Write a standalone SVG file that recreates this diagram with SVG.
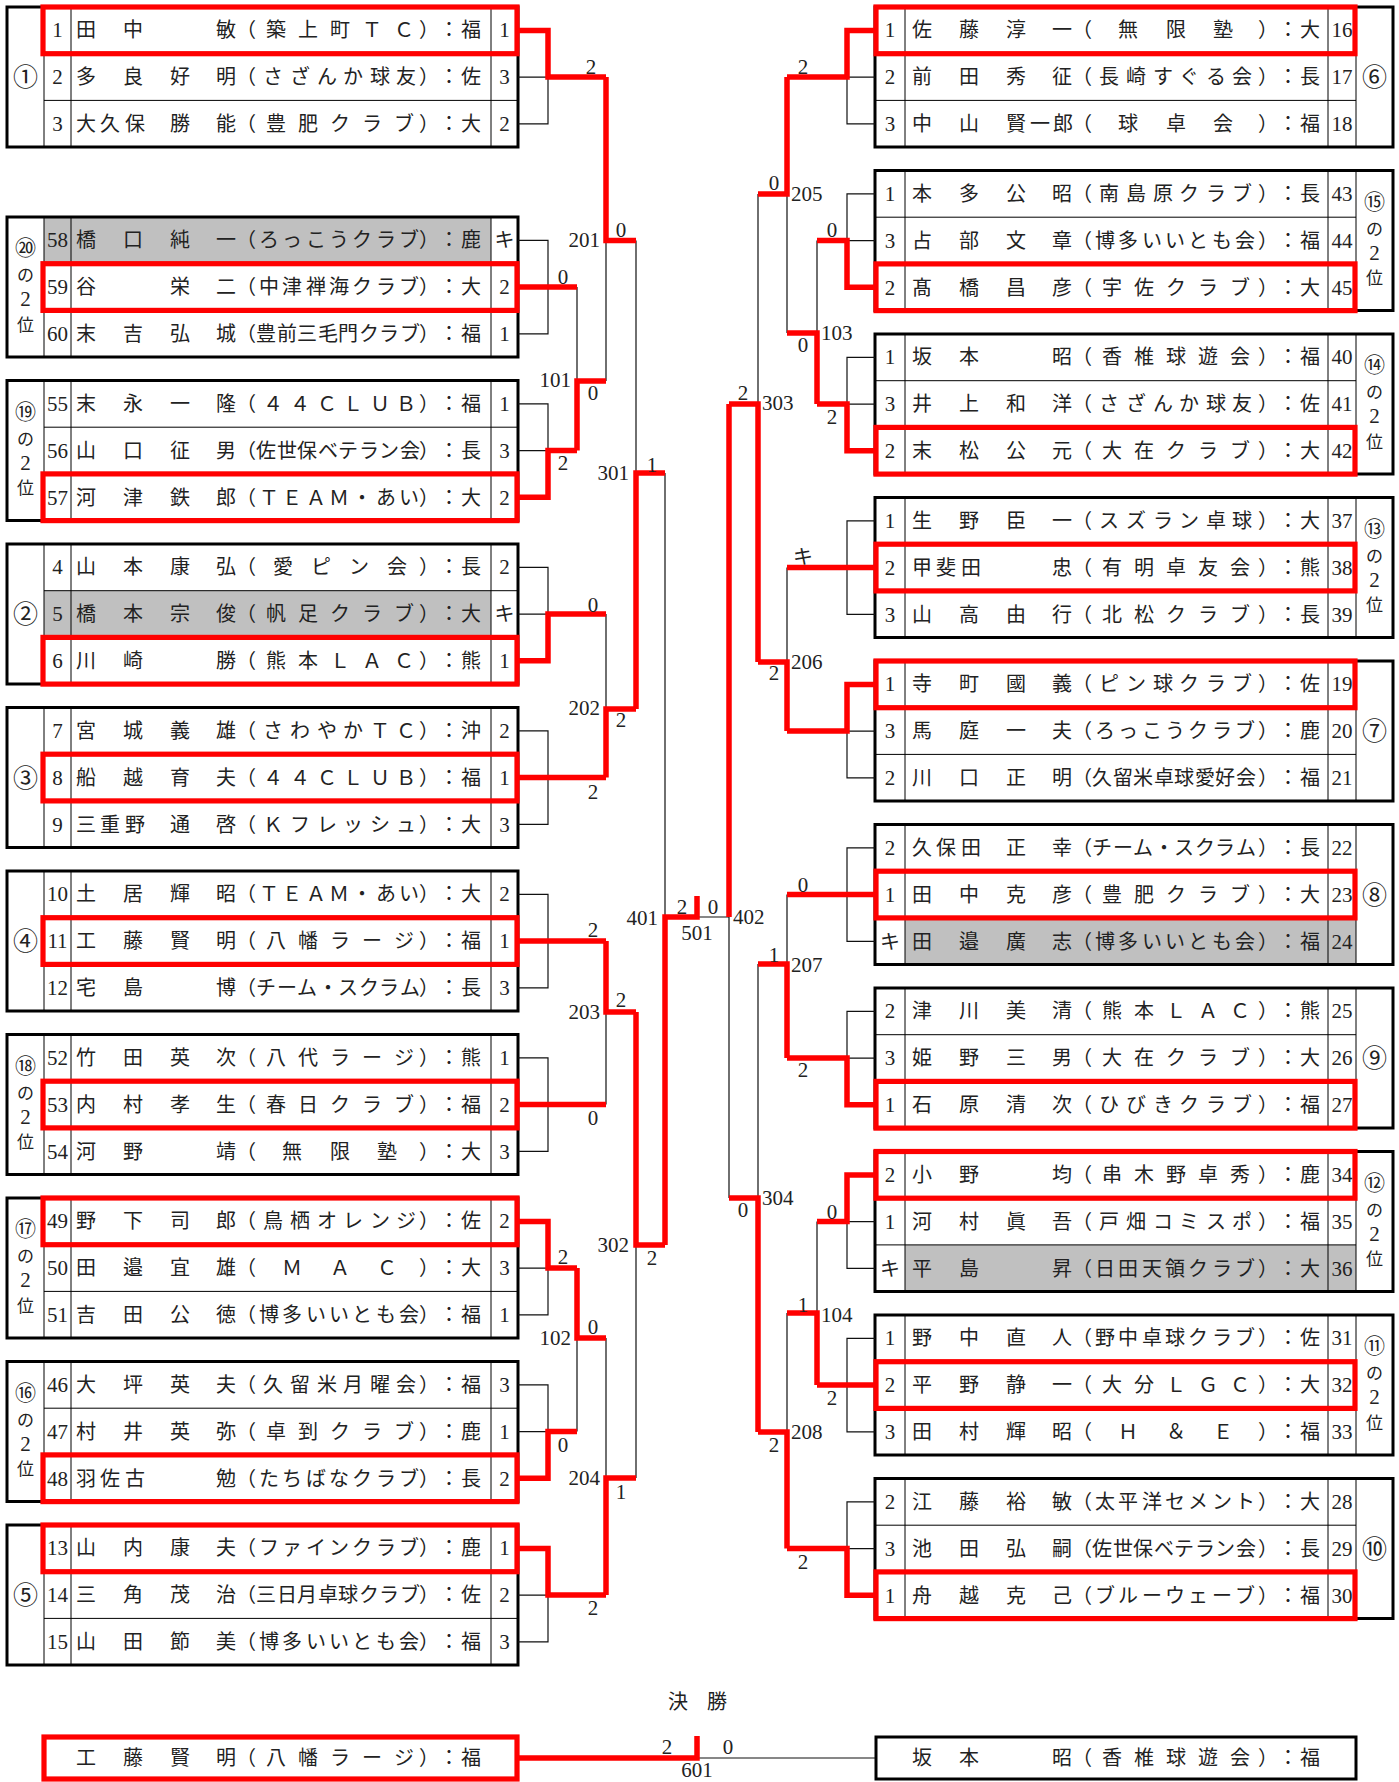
<svg xmlns="http://www.w3.org/2000/svg" width="1399" height="1782" viewBox="0 0 1399 1782">
<style>
.box{fill:none;stroke:#000;stroke-width:3}
.thin{fill:none;stroke:#000;stroke-width:1}
.gray{fill:#c0c0c0}
.win{fill:none;stroke:#f00;stroke-width:5.2}
.t{font-family:"Noto Sans CJK JP",sans-serif;font-size:20px;fill:#222}
.d{font-family:"Liberation Serif",serif;font-size:21px;fill:#222}
.m{text-anchor:middle}
.e{text-anchor:end}
.lab{font-family:"Noto Sans CJK JP",sans-serif;font-size:20px;fill:#222;text-anchor:middle}
.vl{font-family:"Noto Sans CJK JP",sans-serif;font-size:17px;fill:#222;text-anchor:middle}
.cn{font-family:"Noto Sans CJK JP",sans-serif;font-size:25px;fill:#222;text-anchor:middle}
.c2{font-size:21px}
.dg{font-family:"Liberation Serif",serif;font-size:21px}
.rl{fill:none;stroke:#f00;stroke-width:5.5}
.bl{fill:none;stroke:#111;stroke-width:1.2}
</style>
<rect width="1399" height="1782" fill="#fff"/>

<!-- LEFT GROUPS -->
<g id="n-l01" transform="translate(0,7)">
<rect class="box" x="7" y="0" width="511" height="140"/>
<path class="thin" d="M44 0V140M71 0V140M491 0V140M44 46.7H518M44 93.4H518"/>
<text class="cn" x="25.5" y="79">①</text>
<text class="t" y="30" x="76 123 216 236 266 298 330 362 394 419 439 461">田中敏（築上町ＴＣ）：福</text>
<text class="t" y="77" x="76 123 170 216 236 263 290 317 343 370 396 419 439 461">多良好明（さざんか球友）：佐</text>
<text class="t" y="124" x="76 100 125 170 216 236 266 298 330 362 394 419 439 461">大久保勝能（豊肥クラブ）：大</text>
<text class="d m"><tspan x="57.5" y="30">1</tspan><tspan x="57.5" y="77">2</tspan><tspan x="57.5" y="124">3</tspan></text>
<text class="d m"><tspan x="504.5" y="30">1</tspan><tspan x="504.5" y="77">3</tspan><tspan x="504.5" y="124">2</tspan></text>
<rect class="win" x="43" y="0" width="474" height="46.7"/>
</g>

<g id="n-l02" transform="translate(0,217)">
<rect class="gray" x="44" y="0" width="447" height="46.7"/>
<rect class="box" x="7" y="0" width="511" height="140"/>
<path class="thin" d="M44 0V140M71 0V140M491 0V140M44 46.7H518M44 93.4H518"/>
<text class="vl"><tspan class="c2" x="25.5" y="38">⑳</tspan><tspan x="25.5" y="64">の</tspan><tspan class="dg" x="25.5" y="89">2</tspan><tspan x="25.5" y="113.5">位</tspan></text>
<text class="t" y="30" x="76 123 170 216 236 259 282 306 329 352 376 399 419 439 461">橋口純一（ろっこうクラブ）：鹿</text>
<text class="t" y="77" x="76 170 216 236 259 282 306 329 352 376 399 419 439 461">谷栄二（中津禅海クラブ）：大</text>
<text class="t" y="124" x="76 123 170 216 236 256 277 297 318 338 359 379 400 419 439 461">末吉弘城（豊前三毛門クラブ）：福</text>
<text class="d m"><tspan x="57.5" y="30">58</tspan><tspan x="57.5" y="77">59</tspan><tspan x="57.5" y="124">60</tspan></text>
<text class="t m" x="504.5" y="30">キ</text>
<text class="d m"><tspan x="504.5" y="77">2</tspan><tspan x="504.5" y="124">1</tspan></text>
<rect class="win" x="43" y="46.7" width="474" height="46.7"/>
</g>

<g id="n-l03" transform="translate(0,380.5)">
<rect class="box" x="7" y="0" width="511" height="140"/>
<path class="thin" d="M44 0V140M71 0V140M491 0V140M44 46.7H518M44 93.4H518"/>
<text class="vl"><tspan class="c2" x="25.5" y="38">⑲</tspan><tspan x="25.5" y="64">の</tspan><tspan class="dg" x="25.5" y="89">2</tspan><tspan x="25.5" y="113.5">位</tspan></text>
<text class="t" y="30" x="76 123 170 216 236 263 290 317 343 370 396 419 439 461">末永一隆（４４ＣＬＵＢ）：福</text>
<text class="t" y="77" x="76 123 170 216 236 256 277 297 318 338 359 379 400 419 439 461">山口征男（佐世保ベテラン会）：長</text>
<text class="t" y="124" x="76 123 170 216 236 259 282 306 329 352 376 399 419 439 461">河津鉄郎（ＴＥＡＭ・あい）：大</text>
<text class="d m"><tspan x="57.5" y="30">55</tspan><tspan x="57.5" y="77">56</tspan><tspan x="57.5" y="124">57</tspan></text>
<text class="d m"><tspan x="504.5" y="30">1</tspan><tspan x="504.5" y="77">3</tspan><tspan x="504.5" y="124">2</tspan></text>
<rect class="win" x="43" y="93.4" width="474" height="46.7"/>
</g>

<g id="n-l04" transform="translate(0,544)">
<rect class="gray" x="44" y="46.7" width="447" height="46.7"/>
<rect class="box" x="7" y="0" width="511" height="140"/>
<path class="thin" d="M44 0V140M71 0V140M491 0V140M44 46.7H518M44 93.4H518"/>
<text class="cn" x="25.5" y="79">②</text>
<text class="t" y="30" x="76 123 170 216 236 273 311 349 387 419 439 461">山本康弘（愛ピン会）：長</text>
<text class="t" y="77" x="76 123 170 216 236 266 298 330 362 394 419 439 461">橋本宗俊（帆足クラブ）：大</text>
<text class="t" y="124" x="76 123 216 236 266 298 330 362 394 419 439 461">川崎勝（熊本ＬＡＣ）：熊</text>
<text class="d m"><tspan x="57.5" y="30">4</tspan><tspan x="57.5" y="77">5</tspan><tspan x="57.5" y="124">6</tspan></text>
<text class="t m" x="504.5" y="77">キ</text>
<text class="d m"><tspan x="504.5" y="30">2</tspan><tspan x="504.5" y="124">1</tspan></text>
<rect class="win" x="43" y="93.4" width="474" height="46.7"/>
</g>

<g id="n-l05" transform="translate(0,707.5)">
<rect class="box" x="7" y="0" width="511" height="140"/>
<path class="thin" d="M44 0V140M71 0V140M491 0V140M44 46.7H518M44 93.4H518"/>
<text class="cn" x="25.5" y="79">③</text>
<text class="t" y="30" x="76 123 170 216 236 263 290 317 343 370 396 419 439 461">宮城義雄（さわやかＴＣ）：沖</text>
<text class="t" y="77" x="76 123 170 216 236 263 290 317 343 370 396 419 439 461">船越育夫（４４ＣＬＵＢ）：福</text>
<text class="t" y="124" x="76 100 125 170 216 236 263 290 317 343 370 396 419 439 461">三重野通啓（Ｋフレッシュ）：大</text>
<text class="d m"><tspan x="57.5" y="30">7</tspan><tspan x="57.5" y="77">8</tspan><tspan x="57.5" y="124">9</tspan></text>
<text class="d m"><tspan x="504.5" y="30">2</tspan><tspan x="504.5" y="77">1</tspan><tspan x="504.5" y="124">3</tspan></text>
<rect class="win" x="43" y="46.7" width="474" height="46.7"/>
</g>

<g id="n-l06" transform="translate(0,871)">
<rect class="box" x="7" y="0" width="511" height="140"/>
<path class="thin" d="M44 0V140M71 0V140M491 0V140M44 46.7H518M44 93.4H518"/>
<text class="cn" x="25.5" y="79">④</text>
<text class="t" y="30" x="76 123 170 216 236 259 282 306 329 352 376 399 419 439 461">土居輝昭（ＴＥＡＭ・あい）：大</text>
<text class="t" y="77" x="76 123 170 216 236 266 298 330 362 394 419 439 461">工藤賢明（八幡ラージ）：福</text>
<text class="t" y="124" x="76 123 216 236 256 277 297 318 338 359 379 400 419 439 461">宅島博（チーム・スクラム）：長</text>
<text class="d m"><tspan x="57.5" y="30">10</tspan><tspan x="57.5" y="77">11</tspan><tspan x="57.5" y="124">12</tspan></text>
<text class="d m"><tspan x="504.5" y="30">2</tspan><tspan x="504.5" y="77">1</tspan><tspan x="504.5" y="124">3</tspan></text>
<rect class="win" x="43" y="46.7" width="474" height="46.7"/>
</g>

<g id="n-l07" transform="translate(0,1034.5)">
<rect class="box" x="7" y="0" width="511" height="140"/>
<path class="thin" d="M44 0V140M71 0V140M491 0V140M44 46.7H518M44 93.4H518"/>
<text class="vl"><tspan class="c2" x="25.5" y="38">⑱</tspan><tspan x="25.5" y="64">の</tspan><tspan class="dg" x="25.5" y="89">2</tspan><tspan x="25.5" y="113.5">位</tspan></text>
<text class="t" y="30" x="76 123 170 216 236 266 298 330 362 394 419 439 461">竹田英次（八代ラージ）：熊</text>
<text class="t" y="77" x="76 123 170 216 236 266 298 330 362 394 419 439 461">内村孝生（春日クラブ）：福</text>
<text class="t" y="124" x="76 123 216 236 282 330 377 419 439 461">河野靖（無限塾）：大</text>
<text class="d m"><tspan x="57.5" y="30">52</tspan><tspan x="57.5" y="77">53</tspan><tspan x="57.5" y="124">54</tspan></text>
<text class="d m"><tspan x="504.5" y="30">1</tspan><tspan x="504.5" y="77">2</tspan><tspan x="504.5" y="124">3</tspan></text>
<rect class="win" x="43" y="46.7" width="474" height="46.7"/>
</g>

<g id="n-l08" transform="translate(0,1198)">
<rect class="box" x="7" y="0" width="511" height="140"/>
<path class="thin" d="M44 0V140M71 0V140M491 0V140M44 46.7H518M44 93.4H518"/>
<text class="vl"><tspan class="c2" x="25.5" y="38">⑰</tspan><tspan x="25.5" y="64">の</tspan><tspan class="dg" x="25.5" y="89">2</tspan><tspan x="25.5" y="113.5">位</tspan></text>
<text class="t" y="30" x="76 123 170 216 236 263 290 317 343 370 396 419 439 461">野下司郎（鳥栖オレンジ）：佐</text>
<text class="t" y="77" x="76 123 170 216 236 282 330 377 419 439 461">田邉宜雄（ＭＡＣ）：大</text>
<text class="t" y="124" x="76 123 170 216 236 259 282 306 329 352 376 399 419 439 461">吉田公徳（博多いいとも会）：福</text>
<text class="d m"><tspan x="57.5" y="30">49</tspan><tspan x="57.5" y="77">50</tspan><tspan x="57.5" y="124">51</tspan></text>
<text class="d m"><tspan x="504.5" y="30">2</tspan><tspan x="504.5" y="77">3</tspan><tspan x="504.5" y="124">1</tspan></text>
<rect class="win" x="43" y="0" width="474" height="46.7"/>
</g>

<g id="n-l09" transform="translate(0,1361.5)">
<rect class="box" x="7" y="0" width="511" height="140"/>
<path class="thin" d="M44 0V140M71 0V140M491 0V140M44 46.7H518M44 93.4H518"/>
<text class="vl"><tspan class="c2" x="25.5" y="38">⑯</tspan><tspan x="25.5" y="64">の</tspan><tspan class="dg" x="25.5" y="89">2</tspan><tspan x="25.5" y="113.5">位</tspan></text>
<text class="t" y="30" x="76 123 170 216 236 263 290 317 343 370 396 419 439 461">大坪英夫（久留米月曜会）：福</text>
<text class="t" y="77" x="76 123 170 216 236 266 298 330 362 394 419 439 461">村井英弥（卓到クラブ）：鹿</text>
<text class="t" y="124" x="76 100 125 216 236 259 282 306 329 352 376 399 419 439 461">羽佐古勉（たちばなクラブ）：長</text>
<text class="d m"><tspan x="57.5" y="30">46</tspan><tspan x="57.5" y="77">47</tspan><tspan x="57.5" y="124">48</tspan></text>
<text class="d m"><tspan x="504.5" y="30">3</tspan><tspan x="504.5" y="77">1</tspan><tspan x="504.5" y="124">2</tspan></text>
<rect class="win" x="43" y="93.4" width="474" height="46.7"/>
</g>

<g id="n-l10" transform="translate(0,1525)">
<rect class="box" x="7" y="0" width="511" height="140"/>
<path class="thin" d="M44 0V140M71 0V140M491 0V140M44 46.7H518M44 93.4H518"/>
<text class="cn" x="25.5" y="79">⑤</text>
<text class="t" y="30" x="76 123 170 216 236 259 282 306 329 352 376 399 419 439 461">山内康夫（ファインクラブ）：鹿</text>
<text class="t" y="77" x="76 123 170 216 236 256 277 297 318 338 359 379 400 419 439 461">三角茂治（三日月卓球クラブ）：佐</text>
<text class="t" y="124" x="76 123 170 216 236 259 282 306 329 352 376 399 419 439 461">山田節美（博多いいとも会）：福</text>
<text class="d m"><tspan x="57.5" y="30">13</tspan><tspan x="57.5" y="77">14</tspan><tspan x="57.5" y="124">15</tspan></text>
<text class="d m"><tspan x="504.5" y="30">1</tspan><tspan x="504.5" y="77">2</tspan><tspan x="504.5" y="124">3</tspan></text>
<rect class="win" x="43" y="0" width="474" height="46.7"/>
</g>

<!-- RIGHT GROUPS -->
<g id="n-r01" transform="translate(0,7)">
<rect class="box" x="875" y="0" width="518" height="140"/>
<path class="thin" d="M905 0V140M1328 0V140M1356 0V140M875 46.7H1356M875 93.4H1356"/>
<text class="cn" x="1374.5" y="79">⑥</text>
<text class="t" y="30" x="912 959 1006 1052 1072 1118 1166 1213 1258 1278 1300">佐藤淳一（無限塾）：大</text>
<text class="t" y="77" x="912 959 1006 1052 1072 1099 1126 1153 1179 1206 1232 1258 1278 1300">前田秀征（長崎すぐる会）：長</text>
<text class="t" y="124" x="912 959 1006 1030 1053 1072 1118 1166 1213 1258 1278 1300">中山賢一郎（球卓会）：福</text>
<text class="d m"><tspan x="890" y="30">1</tspan><tspan x="890" y="77">2</tspan><tspan x="890" y="124">3</tspan></text>
<text class="d m"><tspan x="1342" y="30">16</tspan><tspan x="1342" y="77">17</tspan><tspan x="1342" y="124">18</tspan></text>
<rect class="win" x="876" y="0" width="479" height="46.7"/>
</g>

<g id="n-r02" transform="translate(0,170.5)">
<rect class="box" x="875" y="0" width="518" height="140"/>
<path class="thin" d="M905 0V140M1328 0V140M1356 0V140M875 46.7H1356M875 93.4H1356"/>
<text class="vl"><tspan class="c2" x="1374.5" y="38">⑮</tspan><tspan x="1374.5" y="64">の</tspan><tspan class="dg" x="1374.5" y="89">2</tspan><tspan x="1374.5" y="113.5">位</tspan></text>
<text class="t" y="30" x="912 959 1006 1052 1072 1099 1126 1153 1179 1206 1232 1258 1278 1300">本多公昭（南島原クラブ）：長</text>
<text class="t" y="77" x="912 959 1006 1052 1072 1095 1118 1142 1165 1188 1212 1235 1258 1278 1300">占部文章（博多いいとも会）：福</text>
<text class="t" y="124" x="912 959 1006 1052 1072 1102 1134 1166 1198 1230 1258 1278 1300">髙橋昌彦（宇佐クラブ）：大</text>
<text class="d m"><tspan x="890" y="30">1</tspan><tspan x="890" y="77">3</tspan><tspan x="890" y="124">2</tspan></text>
<text class="d m"><tspan x="1342" y="30">43</tspan><tspan x="1342" y="77">44</tspan><tspan x="1342" y="124">45</tspan></text>
<rect class="win" x="876" y="93.4" width="479" height="46.7"/>
</g>

<g id="n-r03" transform="translate(0,334)">
<rect class="box" x="875" y="0" width="518" height="140"/>
<path class="thin" d="M905 0V140M1328 0V140M1356 0V140M875 46.7H1356M875 93.4H1356"/>
<text class="vl"><tspan class="c2" x="1374.5" y="38">⑭</tspan><tspan x="1374.5" y="64">の</tspan><tspan class="dg" x="1374.5" y="89">2</tspan><tspan x="1374.5" y="113.5">位</tspan></text>
<text class="t" y="30" x="912 959 1052 1072 1102 1134 1166 1198 1230 1258 1278 1300">坂本昭（香椎球遊会）：福</text>
<text class="t" y="77" x="912 959 1006 1052 1072 1099 1126 1153 1179 1206 1232 1258 1278 1300">井上和洋（さざんか球友）：佐</text>
<text class="t" y="124" x="912 959 1006 1052 1072 1102 1134 1166 1198 1230 1258 1278 1300">末松公元（大在クラブ）：大</text>
<text class="d m"><tspan x="890" y="30">1</tspan><tspan x="890" y="77">3</tspan><tspan x="890" y="124">2</tspan></text>
<text class="d m"><tspan x="1342" y="30">40</tspan><tspan x="1342" y="77">41</tspan><tspan x="1342" y="124">42</tspan></text>
<rect class="win" x="876" y="93.4" width="479" height="46.7"/>
</g>

<g id="n-r04" transform="translate(0,497.5)">
<rect class="box" x="875" y="0" width="518" height="140"/>
<path class="thin" d="M905 0V140M1328 0V140M1356 0V140M875 46.7H1356M875 93.4H1356"/>
<text class="vl"><tspan class="c2" x="1374.5" y="38">⑬</tspan><tspan x="1374.5" y="64">の</tspan><tspan class="dg" x="1374.5" y="89">2</tspan><tspan x="1374.5" y="113.5">位</tspan></text>
<text class="t" y="30" x="912 959 1006 1052 1072 1099 1126 1153 1179 1206 1232 1258 1278 1300">生野臣一（スズラン卓球）：大</text>
<text class="t" y="77" x="912 936 961 1052 1072 1102 1134 1166 1198 1230 1258 1278 1300">甲斐田忠（有明卓友会）：熊</text>
<text class="t" y="124" x="912 959 1006 1052 1072 1102 1134 1166 1198 1230 1258 1278 1300">山高由行（北松クラブ）：長</text>
<text class="d m"><tspan x="890" y="30">1</tspan><tspan x="890" y="77">2</tspan><tspan x="890" y="124">3</tspan></text>
<text class="d m"><tspan x="1342" y="30">37</tspan><tspan x="1342" y="77">38</tspan><tspan x="1342" y="124">39</tspan></text>
<rect class="win" x="876" y="46.7" width="479" height="46.7"/>
</g>

<g id="n-r05" transform="translate(0,661)">
<rect class="box" x="875" y="0" width="518" height="140"/>
<path class="thin" d="M905 0V140M1328 0V140M1356 0V140M875 46.7H1356M875 93.4H1356"/>
<text class="cn" x="1374.5" y="79">⑦</text>
<text class="t" y="30" x="912 959 1006 1052 1072 1099 1126 1153 1179 1206 1232 1258 1278 1300">寺町國義（ピン球クラブ）：佐</text>
<text class="t" y="77" x="912 959 1006 1052 1072 1095 1118 1142 1165 1188 1212 1235 1258 1278 1300">馬庭一夫（ろっこうクラブ）：鹿</text>
<text class="t" y="124" x="912 959 1006 1052 1072 1092 1113 1133 1154 1174 1195 1215 1236 1258 1278 1300">川口正明（久留米卓球愛好会）：福</text>
<text class="d m"><tspan x="890" y="30">1</tspan><tspan x="890" y="77">3</tspan><tspan x="890" y="124">2</tspan></text>
<text class="d m"><tspan x="1342" y="30">19</tspan><tspan x="1342" y="77">20</tspan><tspan x="1342" y="124">21</tspan></text>
<rect class="win" x="876" y="0" width="479" height="46.7"/>
</g>

<g id="n-r06" transform="translate(0,824.5)">
<rect class="gray" x="905" y="93.4" width="451" height="46.7"/>
<rect class="box" x="875" y="0" width="518" height="140"/>
<path class="thin" d="M905 0V140M1328 0V140M1356 0V140M875 46.7H1356M875 93.4H1356"/>
<text class="cn" x="1374.5" y="79">⑧</text>
<text class="t" y="30" x="912 936 961 1006 1052 1072 1092 1113 1133 1154 1174 1195 1215 1236 1258 1278 1300">久保田正幸（チーム・スクラム）：長</text>
<text class="t" y="77" x="912 959 1006 1052 1072 1102 1134 1166 1198 1230 1258 1278 1300">田中克彦（豊肥クラブ）：大</text>
<text class="t" y="124" x="912 959 1006 1052 1072 1095 1118 1142 1165 1188 1212 1235 1258 1278 1300">田邉廣志（博多いいとも会）：福</text>
<text class="d m"><tspan x="890" y="30">2</tspan><tspan x="890" y="77">1</tspan></text>
<text class="t m" x="890" y="124">キ</text>
<text class="d m"><tspan x="1342" y="30">22</tspan><tspan x="1342" y="77">23</tspan><tspan x="1342" y="124">24</tspan></text>
<rect class="win" x="876" y="46.7" width="479" height="46.7"/>
</g>

<g id="n-r07" transform="translate(0,988)">
<rect class="box" x="875" y="0" width="518" height="140"/>
<path class="thin" d="M905 0V140M1328 0V140M1356 0V140M875 46.7H1356M875 93.4H1356"/>
<text class="cn" x="1374.5" y="79">⑨</text>
<text class="t" y="30" x="912 959 1006 1052 1072 1102 1134 1166 1198 1230 1258 1278 1300">津川美清（熊本ＬＡＣ）：熊</text>
<text class="t" y="77" x="912 959 1006 1052 1072 1102 1134 1166 1198 1230 1258 1278 1300">姫野三男（大在クラブ）：大</text>
<text class="t" y="124" x="912 959 1006 1052 1072 1099 1126 1153 1179 1206 1232 1258 1278 1300">石原清次（ひびきクラブ）：福</text>
<text class="d m"><tspan x="890" y="30">2</tspan><tspan x="890" y="77">3</tspan><tspan x="890" y="124">1</tspan></text>
<text class="d m"><tspan x="1342" y="30">25</tspan><tspan x="1342" y="77">26</tspan><tspan x="1342" y="124">27</tspan></text>
<rect class="win" x="876" y="93.4" width="479" height="46.7"/>
</g>

<g id="n-r08" transform="translate(0,1151.5)">
<rect class="gray" x="905" y="93.4" width="451" height="46.7"/>
<rect class="box" x="875" y="0" width="518" height="140"/>
<path class="thin" d="M905 0V140M1328 0V140M1356 0V140M875 46.7H1356M875 93.4H1356"/>
<text class="vl"><tspan class="c2" x="1374.5" y="38">⑫</tspan><tspan x="1374.5" y="64">の</tspan><tspan class="dg" x="1374.5" y="89">2</tspan><tspan x="1374.5" y="113.5">位</tspan></text>
<text class="t" y="30" x="912 959 1052 1072 1102 1134 1166 1198 1230 1258 1278 1300">小野均（串木野卓秀）：鹿</text>
<text class="t" y="77" x="912 959 1006 1052 1072 1099 1126 1153 1179 1206 1232 1258 1278 1300">河村眞吾（戸畑コミスポ）：福</text>
<text class="t" y="124" x="912 959 1052 1072 1095 1118 1142 1165 1188 1212 1235 1258 1278 1300">平島昇（日田天領クラブ）：大</text>
<text class="d m"><tspan x="890" y="30">2</tspan><tspan x="890" y="77">1</tspan></text>
<text class="t m" x="890" y="124">キ</text>
<text class="d m"><tspan x="1342" y="30">34</tspan><tspan x="1342" y="77">35</tspan><tspan x="1342" y="124">36</tspan></text>
<rect class="win" x="876" y="0" width="479" height="46.7"/>
</g>

<g id="n-r09" transform="translate(0,1315)">
<rect class="box" x="875" y="0" width="518" height="140"/>
<path class="thin" d="M905 0V140M1328 0V140M1356 0V140M875 46.7H1356M875 93.4H1356"/>
<text class="vl"><tspan class="c2" x="1374.5" y="38">⑪</tspan><tspan x="1374.5" y="64">の</tspan><tspan class="dg" x="1374.5" y="89">2</tspan><tspan x="1374.5" y="113.5">位</tspan></text>
<text class="t" y="30" x="912 959 1006 1052 1072 1095 1118 1142 1165 1188 1212 1235 1258 1278 1300">野中直人（野中卓球クラブ）：佐</text>
<text class="t" y="77" x="912 959 1006 1052 1072 1102 1134 1166 1198 1230 1258 1278 1300">平野静一（大分ＬＧＣ）：大</text>
<text class="t" y="124" x="912 959 1006 1052 1072 1118 1166 1213 1258 1278 1300">田村輝昭（Ｈ＆Ｅ）：福</text>
<text class="d m"><tspan x="890" y="30">1</tspan><tspan x="890" y="77">2</tspan><tspan x="890" y="124">3</tspan></text>
<text class="d m"><tspan x="1342" y="30">31</tspan><tspan x="1342" y="77">32</tspan><tspan x="1342" y="124">33</tspan></text>
<rect class="win" x="876" y="46.7" width="479" height="46.7"/>
</g>

<g id="n-r10" transform="translate(0,1478.5)">
<rect class="box" x="875" y="0" width="518" height="140"/>
<path class="thin" d="M905 0V140M1328 0V140M1356 0V140M875 46.7H1356M875 93.4H1356"/>
<text class="cn" x="1374.5" y="79">⑩</text>
<text class="t" y="30" x="912 959 1006 1052 1072 1095 1118 1142 1165 1188 1212 1235 1258 1278 1300">江藤裕敏（太平洋セメント）：大</text>
<text class="t" y="77" x="912 959 1006 1052 1072 1092 1113 1133 1154 1174 1195 1215 1236 1258 1278 1300">池田弘嗣（佐世保ベテラン会）：長</text>
<text class="t" y="124" x="912 959 1006 1052 1072 1095 1118 1142 1165 1188 1212 1235 1258 1278 1300">舟越克己（ブルーウェーブ）：福</text>
<text class="d m"><tspan x="890" y="30">2</tspan><tspan x="890" y="77">3</tspan><tspan x="890" y="124">1</tspan></text>
<text class="d m"><tspan x="1342" y="30">28</tspan><tspan x="1342" y="77">29</tspan><tspan x="1342" y="124">30</tspan></text>
<rect class="win" x="876" y="93.4" width="479" height="46.7"/>
</g>

<!-- FINAL -->
<g id="n-final-left">
<rect class="win" x="44" y="1737" width="473" height="42"/>
<text class="t" y="1765" x="76 123 170 216 236 266 298 330 362 394 419 439 461">工藤賢明（八幡ラージ）：福</text>
</g>
<g id="n-final-right">
<rect class="box" x="876" y="1737" width="480" height="42"/>
<text class="t" y="1765" x="912 959 1052 1072 1102 1134 1166 1198 1230 1258 1278 1300">坂本昭（香椎球遊会）：福</text>
</g>
<g id="title">
<text class="lab"><tspan x="678" y="1709">決</tspan><tspan x="717" y="1709">勝</tspan></text>
</g>

<!-- CONNECTORS -->
<g id="connectors">
<path class="bl" d="M518 77.1H548M518 123.8H548V77.1M518 240.4H548V333.8H518M518 403.9H548V450.6H518M518 567.4H548V614.1H518M518 730.9H548V824.3H518M518 894.4H548V987.8H518M518 1057.9H548V1151.3H518M518 1268.1H548V1314.8H518M518 1384.9H548V1431.6H518M518 1595.1H548V1641.8H518"/>
<path class="bl" d="M577 287.1V381M606 240.4V381M606 614.1V709M636 240.4V473M606 1012V1104.6M577 1338V1431.6M606 1338V1478M636 1245V1478M665 473V917M697 917H729"/>
<path class="bl" d="M875 77.1H847M875 123.8H847V77.1M875 193.9H847V240.6H875M875 357.4H847V404.1H875M875 520.9H847V614.3H875M875 731.1H847V777.8H875M875 847.9H847V941.3H875M875 1011.4H847V1058.1H875M875 1221.6H847V1268.3H875M875 1338.4H847V1431.8H875M875 1501.9H847V1548.6H875"/>
<path class="bl" d="M817 240.6V333M787 194V333M787 567.6V662M758 194V404M787 894.6V964M817 1221.6V1313M787 1313V1432M758 964V1198M729 917V1198M697 1758H875"/>
<path class="rl" d="M518 30.4H548V77.1H606M518 287.1H577M518 497.3H548V450.6H577M518 660.8H548V614.1H606M518 777.6H606M518 941.1H606M518 1104.6H606M518 1221.4H548V1268.1H577M518 1478.3H548V1431.6H577M518 1548.4H548V1595.1H606"/>
<path class="rl" d="M577 450.6V381H606M606 77.1V240.4H636M606 777.6V709H636M636 709V473H665M606 941.1V1012H636M577 1268.1V1338H606M606 1595.1V1478H636M636 1012V1245H665M665 1245V917H697V896"/>
<path class="rl" d="M875 30.4H847V77.1H787M875 287.3H847V240.6H817M875 450.8H847V404.1H817M875 567.6H787M875 684.4H847V731.1H787M875 894.6H787M875 1104.8H847V1058.1H787M875 1174.9H847V1221.6H817M875 1385.1H817M875 1595.3H847V1548.6H787"/>
<path class="rl" d="M817 404.1V333H787M787 77.1V194H758M787 731.1V662H758M758 662V404H729M787 1058.1V964H758M817 1385.1V1313H787M787 1548.6V1432H758M758 1432V1198H729M729 404V917M519 1758H697V1736"/>
</g>

<!-- SCORE / MATCH LABELS -->
<g id="labels">
<text class="d m" x="591" y="74">2</text>
<text class="d e" x="600" y="247">201</text>
<text class="d m" x="621" y="237">0</text>
<text class="d m" x="563" y="284">0</text>
<text class="d e" x="571" y="387">101</text>
<text class="d m" x="593" y="400">0</text>
<text class="d m" x="563" y="470">2</text>
<text class="d e" x="629" y="480">301</text>
<text class="d m" x="652" y="472">1</text>
<text class="d m" x="593" y="612">0</text>
<text class="d e" x="600" y="715">202</text>
<text class="d m" x="621" y="727">2</text>
<text class="d m" x="593" y="799">2</text>
<text class="d e" x="658" y="925">401</text>
<text class="d m" x="682" y="914">2</text>
<text class="d m" x="593" y="937">2</text>
<text class="d e" x="600" y="1019">203</text>
<text class="d m" x="621" y="1007">2</text>
<text class="d m" x="593" y="1125">0</text>
<text class="d e" x="629" y="1252">302</text>
<text class="d m" x="652" y="1265">2</text>
<text class="d m" x="563" y="1264">2</text>
<text class="d m" x="593" y="1334">0</text>
<text class="d e" x="571" y="1345">102</text>
<text class="d m" x="563" y="1452">0</text>
<text class="d e" x="600" y="1485">204</text>
<text class="d m" x="621" y="1499">1</text>
<text class="d m" x="593" y="1615">2</text>
<text class="d m" x="713" y="914">0</text>
<text class="d m" x="697" y="940">501</text>
<text class="d" x="733" y="924">402</text>
<text class="d m" x="803" y="74">2</text>
<text class="d m" x="774" y="190">0</text>
<text class="d" x="791" y="201">205</text>
<text class="d m" x="832" y="237">0</text>
<text class="d" x="821" y="340">103</text>
<text class="d m" x="803" y="352">0</text>
<text class="d m" x="832" y="424">2</text>
<text class="d m" x="743" y="400">2</text>
<text class="d" x="762" y="410">303</text>
<text class="t m" x="803" y="564">キ</text>
<text class="d m" x="774" y="680">2</text>
<text class="d" x="791" y="669">206</text>
<text class="d m" x="803" y="892">0</text>
<text class="d m" x="774" y="962">1</text>
<text class="d" x="791" y="972">207</text>
<text class="d m" x="803" y="1077">2</text>
<text class="d" x="762" y="1205">304</text>
<text class="d m" x="743" y="1217">0</text>
<text class="d m" x="832" y="1219">0</text>
<text class="d m" x="803" y="1312">1</text>
<text class="d" x="821" y="1322">104</text>
<text class="d m" x="832" y="1405">2</text>
<text class="d" x="791" y="1439">208</text>
<text class="d m" x="774" y="1452">2</text>
<text class="d m" x="803" y="1569">2</text>
<text class="d m" x="667" y="1754">2</text>
<text class="d m" x="728" y="1754">0</text>
<text class="d m" x="697" y="1777">601</text>
</g>
</svg>
